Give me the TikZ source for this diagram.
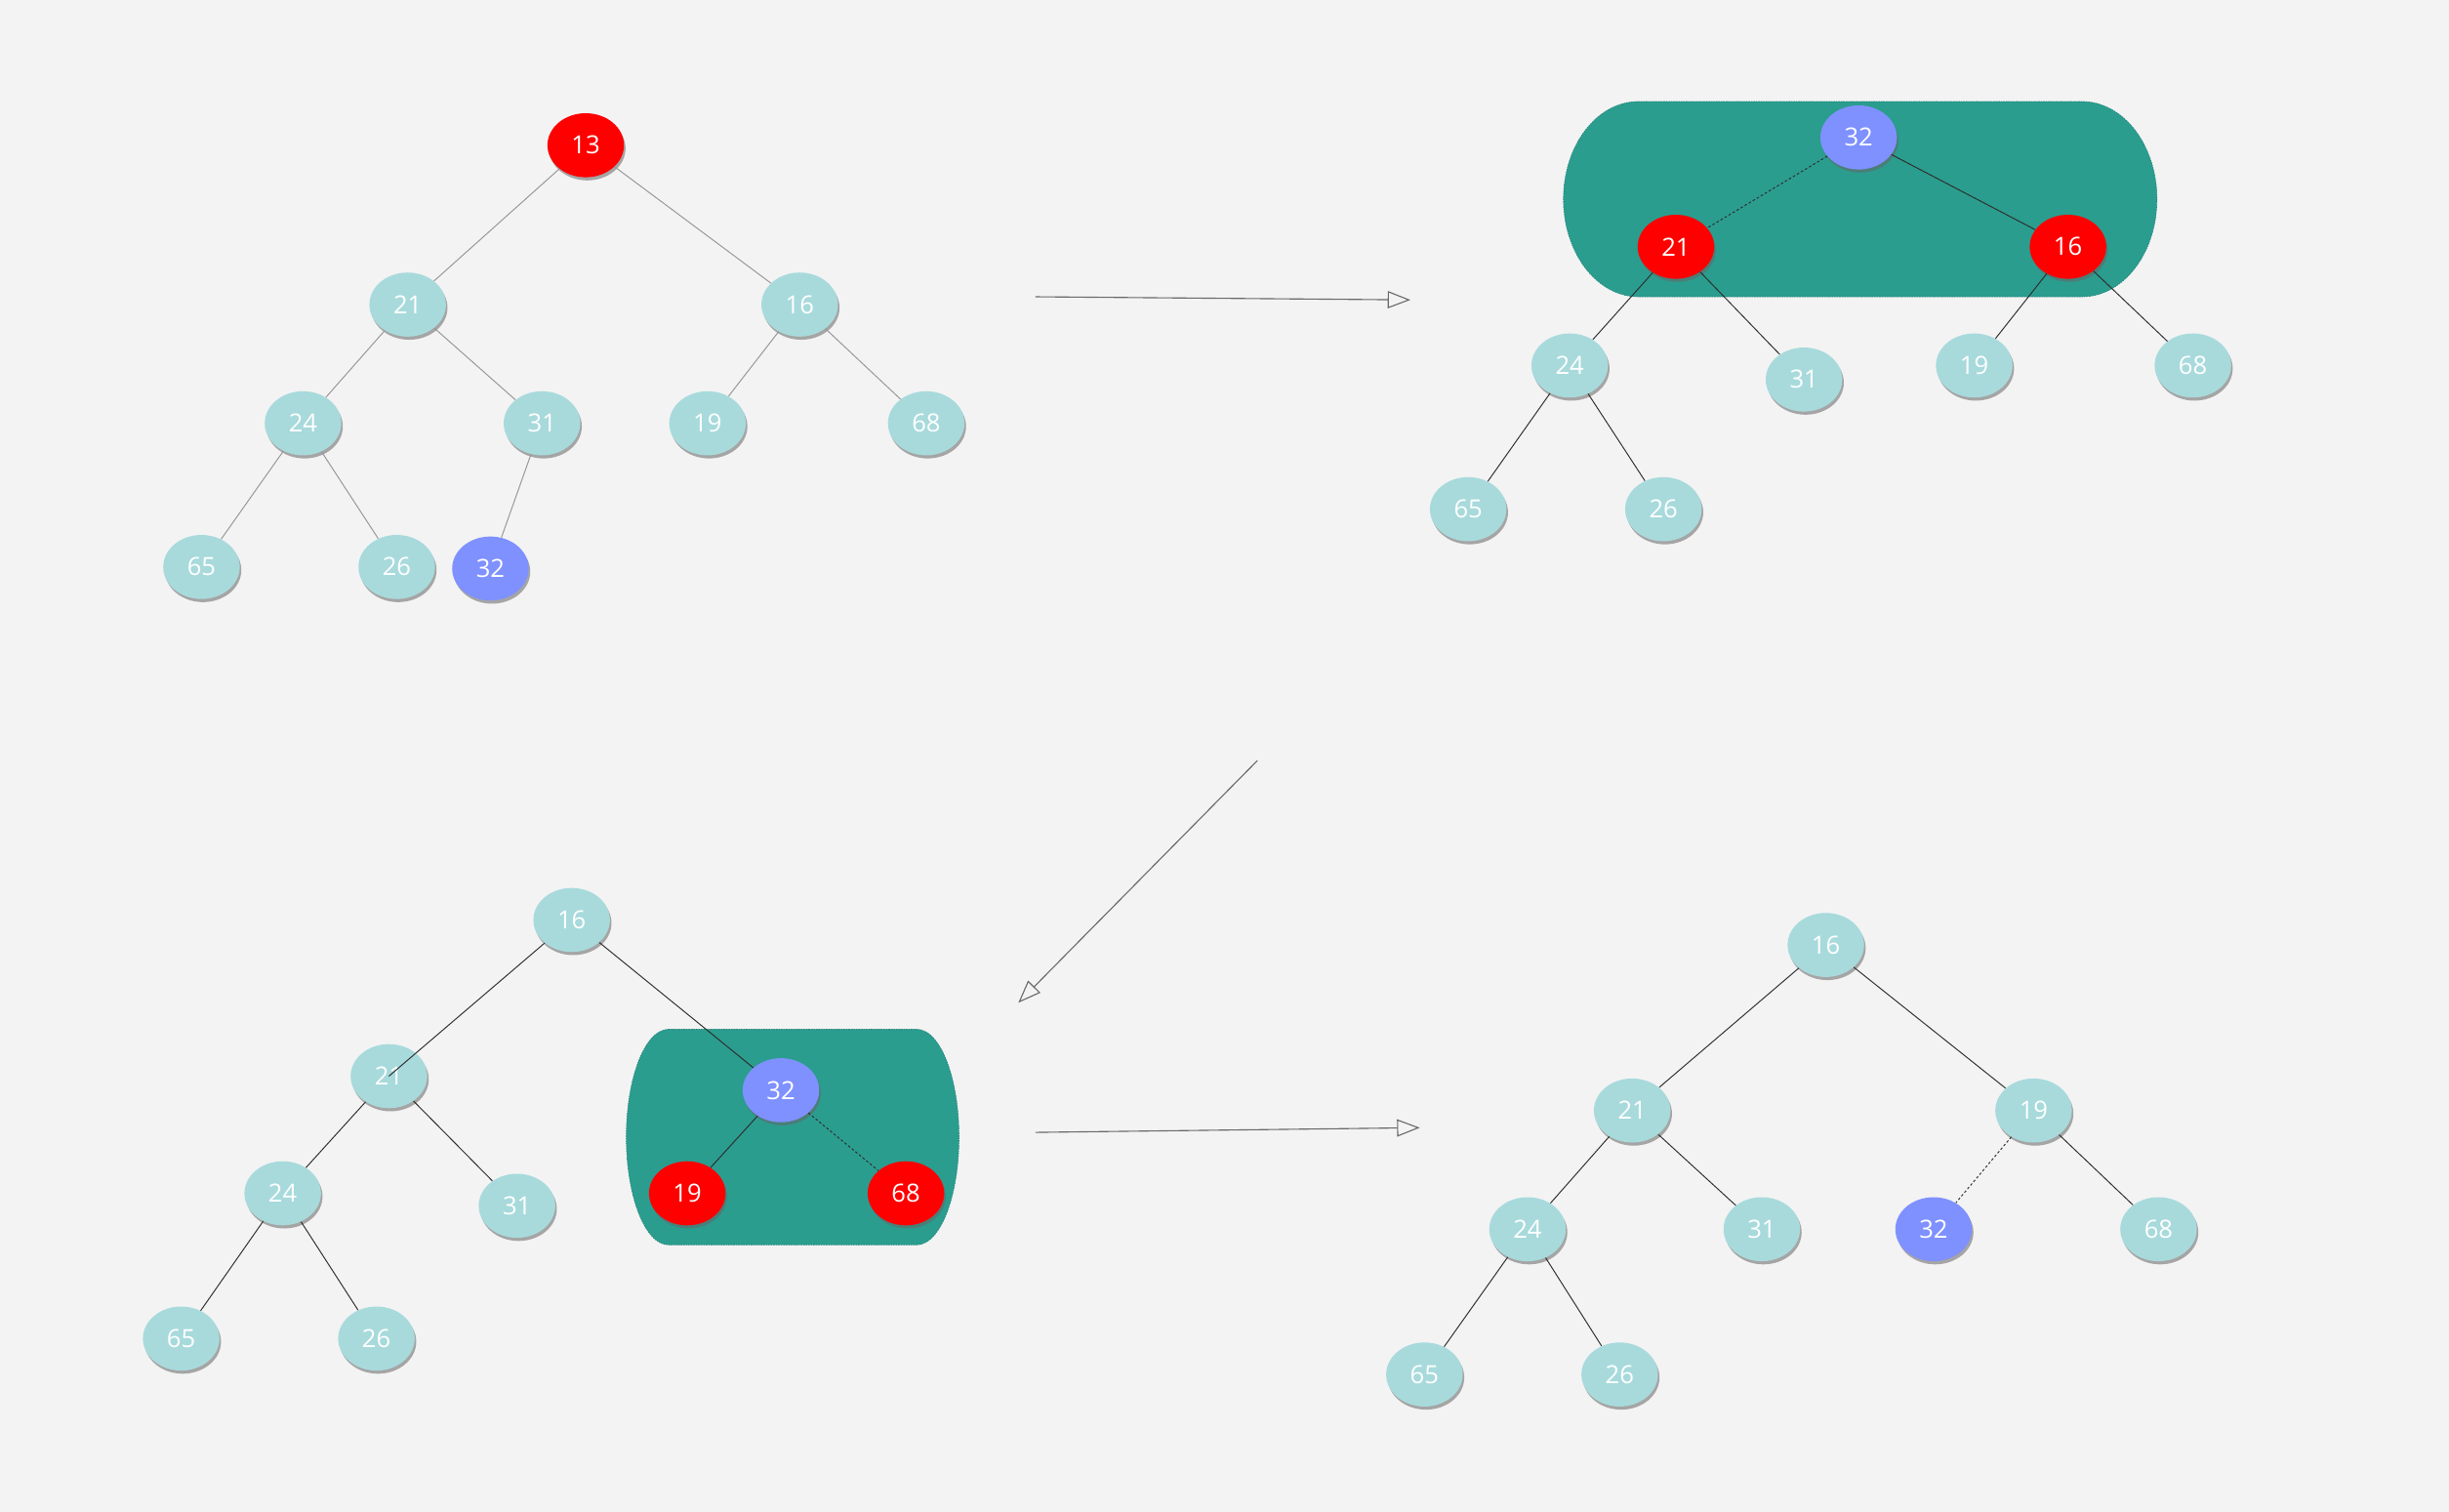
\documentclass[tikz,border=0pt]{standalone}
\usepackage{fontspec}
\setmainfont{Open Sans}
\usetikzlibrary{shapes.geometric,shadows,arrows.meta}
\definecolor{bg}{RGB}{243,243,243}
\definecolor{tl}{RGB}{168,218,220}
\definecolor{rd}{RGB}{255,0,0}
\definecolor{bl}{RGB}{127,145,255}
\definecolor{grn}{RGB}{42,157,143}
\definecolor{edgeA}{RGB}{150,150,150}
\definecolor{edgeB}{RGB}{45,45,45}
\definecolor{arrc}{RGB}{105,105,105}
\tikzset{
  nd/.style={ellipse, minimum width=49pt, minimum height=41pt, inner sep=0pt,
    fill=tl, text=white, font=\fontsize{16}{16}\selectfont,
    drop shadow={shadow xshift=1pt, shadow yshift=-2pt, fill=black!60, opacity=0.55}},
  rednd/.style={nd, fill=rd},
  bluend/.style={nd, fill=bl},
  ea/.style={draw=edgeA, line width=0.6pt},
  eb/.style={draw=edgeB, line width=0.6pt},
  ebd/.style={eb, dash pattern=on 1.6pt off 1.4pt},
  blob/.style={fill=grn, draw=grn!85!black, line width=0.4pt, dash pattern=on 1pt off 0.6pt},
  arrw/.style={draw=arrc, line width=0.7pt, -{Triangle[open, length=14.5pt, width=11pt]}}
}
\begin{document}
\begin{tikzpicture}[x=1pt, y=-1pt]
\fill[bg] (0,0) rectangle (1568,968);
\useasboundingbox (0,0) rectangle (1568,968);

% ---------- backgrounds of the highlighted groups ----------
\path[blob] (1049,65) -- (1333,65)
  .. controls (1359.5,65) and (1381,93) .. (1381,127.5)
  .. controls (1381,162) and (1359.5,190) .. (1333,190)
  -- (1049,190)
  .. controls (1022.5,190) and (1001,162) .. (1001,127.5)
  .. controls (1001,93) and (1022.5,65) .. (1049,65) -- cycle;
\path[blob] (428,659) -- (587,659)
  .. controls (601.9,659) and (614,689.9) .. (614,728)
  .. controls (614,766.1) and (601.9,797) .. (587,797)
  -- (428,797)
  .. controls (413.1,797) and (401,766.1) .. (401,728)
  .. controls (401,689.9) and (413.1,659) .. (428,659) -- cycle;

% ---------- tree 1 ----------
\node[rednd] (a13) at (375,93) {13};
\node[nd] (a21) at (261,195) {21};
\node[nd] (a16) at (512,195) {16};
\node[nd] (a24) at (194,271) {24};
\node[nd] (a31) at (347,271) {31};
\node[nd] (a19) at (453,271) {19};
\node[nd] (a68) at (593,271) {68};
\node[nd] (a65) at (129,363) {65};
\node[nd] (a26) at (254,363) {26};
\node[bluend] (a32) at (314,364) {32};
\draw[ea] (a13) -- (a21);
\draw[ea] (a13) -- (a16);
\draw[ea] (a21) -- (a24);
\draw[ea] (a21) -- (a31);
\draw[ea] (a16) -- (a19);
\draw[ea] (a16) -- (a68);
\draw[ea] (a24) -- (a65);
\draw[ea] (a24) -- (a26);
\draw[ea] (a31) -- (a32);

% ---------- tree 2 ----------
\node[bluend] (b32) at (1190,88) {32};
\node[rednd] (b21) at (1073,158) {21};
\node[rednd] (b16) at (1324,158) {16};
\node[nd] (b24) at (1005,234) {24};
\node[nd] (b31) at (1155,243) {31};
\node[nd] (b19) at (1264,234) {19};
\node[nd] (b68) at (1404,234) {68};
\node[nd] (b65) at (940,326) {65};
\node[nd] (b26) at (1065,326) {26};
\draw[ebd] (b32) -- (b21);
\draw[eb] (b32) -- (b16);
\draw[eb] (b21) -- (b24);
\draw[eb] (b21) -- (b31);
\draw[eb] (b16) -- (b19);
\draw[eb] (b16) -- (b68);
\draw[eb] (b24) -- (b65);
\draw[eb] (b24) -- (b26);

% ---------- tree 3 ----------
\node[nd] (c16) at (366,589) {16};
\node[nd] (c21) at (249,689) {21};
\node[bluend] (c32) at (500,698) {32};
\node[nd] (c24) at (181,764) {24};
\node[nd] (c31) at (331,772) {31};
\node[rednd] (c19) at (440,764) {19};
\node[rednd] (c68) at (580,764) {68};
\node[nd] (c65) at (116,857) {65};
\node[nd] (c26) at (241,857) {26};
\draw[eb] (c16) -- (c21.center);
\draw[eb] (c16) -- (c32);
\draw[eb] (c21) -- (c24);
\draw[eb] (c21) -- (c31);
\draw[eb] (c24) -- (c65);
\draw[eb] (c24) -- (c26);
\draw[eb] (c32) -- (c19);
\draw[ebd] (c32) -- (c68);

% ---------- tree 4 ----------
\node[nd] (d16) at (1169,605) {16};
\node[nd] (d21) at (1045,711) {21};
\node[nd] (d19) at (1302,711) {19};
\node[nd] (d24) at (978,787) {24};
\node[nd] (d31) at (1128,787) {31};
\node[bluend] (d32) at (1238,787) {32};
\node[nd] (d68) at (1382,787) {68};
\node[nd] (d65) at (912,880) {65};
\node[nd] (d26) at (1037,880) {26};
\draw[eb] (d16) -- (d21);
\draw[eb] (d16) -- (d19);
\draw[eb] (d21) -- (d24);
\draw[eb] (d21) -- (d31);
\draw[ebd] (d19) -- (d32);
\draw[eb] (d19) -- (d68);
\draw[eb] (d24) -- (d65);
\draw[eb] (d24) -- (d26);

% ---------- step arrows ----------
\coordinate (s1) at (663,190);
\coordinate (t1) at (903,192);
\coordinate (s2) at (805,487);
\coordinate (t2) at (652,642);
\coordinate (s3) at (663,725);
\coordinate (t3) at (909,722);
\draw[arrw] (s1) -- (t1);
\draw[arrw] (s2) -- (t2);
\draw[arrw] (s3) -- (t3);
\end{tikzpicture}
\end{document}
